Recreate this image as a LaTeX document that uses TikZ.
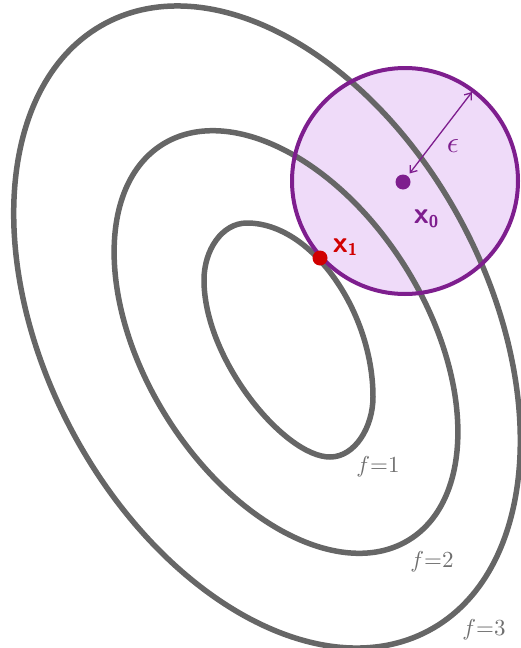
\documentclass[tikz,border=0pt]{standalone}
\usepackage{amsmath}
\usepackage{tikz}
\usetikzlibrary{positioning, arrows.meta}

\definecolor{levelgray}{HTML}{666666}
\definecolor{labelgray}{HTML}{6E6E6E}
\definecolor{ballpurple}{HTML}{7E1E8E}
\definecolor{ballfill}{HTML}{EFDBF9}
\definecolor{iterred}{HTML}{D10000}

\begin{document}
\begin{tikzpicture}[
    x=1pt, y=-1pt,
    >={Straight Barb[length=6pt, width=9pt]},
    level/.style={
        draw=levelgray, line width=5.5pt
    },
    ballarea/.style={
        circle, fill=ballfill, minimum size=226pt, inner sep=0pt
    },
    ballrim/.style={
        circle, draw=ballpurple, line width=4pt,
        minimum size=226pt, inner sep=0pt
    },
    iterate/.style={
        circle, inner sep=0pt, minimum size=15pt
    },
    pointlabel/.style={
        font=\sffamily\bfseries\fontsize{30}{30}\selectfont, inner sep=0pt
    },
    levellabel/.style={
        text=labelgray, inner sep=0pt, scale=2.3
    }
]
\useasboundingbox (0,0) rectangle (521,648);

% ============ EPSILON BALL (fill) ============
\node[ballarea] (ball) at (405,181) {};

% ============ LEVEL SETS ============
% f = 3
\draw[level, rotate around={-62:(267,327)}]
    (267,327) ellipse [x radius=344pt, y radius=221pt];
% f = 2
\draw[level, rotate around={-58:(286,342)}]
    (286,342) ellipse [x radius=233pt, y radius=141pt];
% f = 1
\draw[level] (247,223) .. controls (312,223) and (373,312) .. (373,397)
    .. controls (373,427) and (355,457) .. (330,457)
    .. controls (285,457) and (204,360) .. (204,280)
    .. controls (204,250) and (222,223) .. cycle;

\node[levellabel] (f1) at (378,467) {$f{=}1$};
\node[levellabel] (f2) at (432,562) {$f{=}2$};
\node[levellabel] (f3) at (484,630) {$f{=}3$};

% ============ EPSILON BALL (rim) ============
\node[ballrim] (rim0) at (ball.center) {};

% ============ ITERATES ============
\node[iterate, fill=ballpurple] (xo) at (403,182) {};
\node[iterate, fill=iterred] (xi) at (320,258) {};

\node[pointlabel, text=ballpurple] (xolab) at (426,219)
    {x\raisebox{-0.12em}{\fontsize{17}{17}\selectfont 0}};
\node[pointlabel, text=iterred] (xilab) at (345,247)
    {x\raisebox{-0.12em}{\fontsize{17}{17}\selectfont 1}};

% Radius arrow
\coordinate (rim) at (472,92);
\draw[<->, draw=ballpurple, line width=1.3pt, shorten <=3pt] (xo) -- (rim);
\node[text=ballpurple, inner sep=0pt, scale=3] (eps) at (453,146) {$\epsilon$};

\end{tikzpicture}
\end{document}
